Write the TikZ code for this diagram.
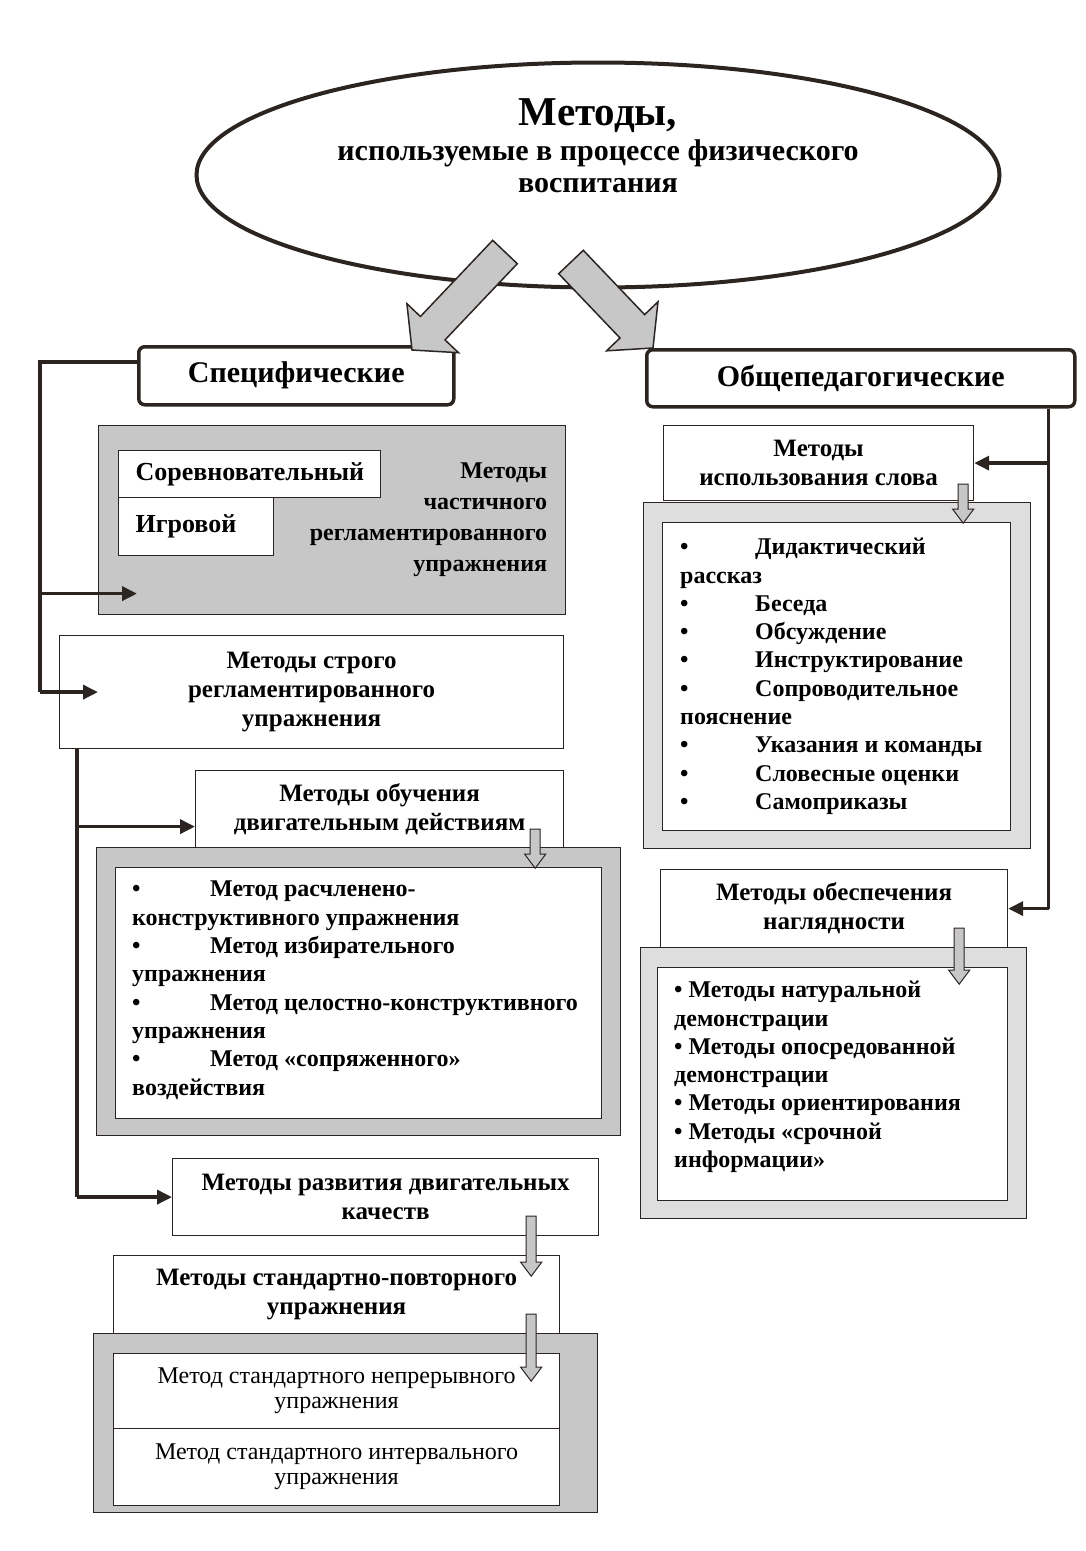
\documentclass[tikz,border=0pt]{standalone}
\usepackage{fontspec}
\setmainfont{Liberation Serif}
\usepackage{tikz}
\usetikzlibrary{positioning, shapes.geometric, arrows.meta}
\usepackage{xcolor}

\definecolor{ink}{HTML}{2B2421}
\definecolor{shade}{gray}{0.78}
\definecolor{lightshade}{gray}{0.87}

% flecha gris pequeña: punto superior, largo del tallo
\newcommand{\dnarrow}[2]{%
	\draw[smallarr] ([xshift=-5pt]#1) -- ++(0,#2) -- ++(-5.5,0) -- ++(10.5,14)
		-- ++(10.5,-14) -- ++(-5.5,0) -- ++(0,-#2) -- cycle;}

\begin{document}
\begin{tikzpicture}[x=1pt, y=-1pt,
		every node/.style={text=black, inner sep=0pt},
		box/.style={draw=ink, line width=1.2pt, fill=white, align=center, anchor=north west,
			font=\fontsize{25}{29}\selectfont\bfseries},
		head/.style={draw=ink, line width=3.5pt, fill=white, rounded corners=6pt, anchor=north west,
			font=\fontsize{30}{34}\selectfont\bfseries},
		frame/.style={draw=ink, line width=1.2pt, anchor=north west},
		cell/.style={draw=ink, line width=1.2pt, fill=white, align=center, anchor=north west,
			font=\fontsize{24}{25}\selectfont},
		listtxt/.style={align=left, anchor=north west, font=\fontsize{24}{28.3}\selectfont\bfseries},
		conn/.style={draw=ink, line width=3.5pt},
		tip/.style={-{Triangle[length=15pt,width=14pt]}},
		bigarr/.style={fill=shade, draw=ink, line width=1.5pt, line join=miter},
		smallarr/.style={fill=shade, draw=ink, line width=1pt}
		]
		\useasboundingbox (0,0) rectangle (1085,1551);
		
		% elipse principal
		\node[draw=ink, line width=4pt, ellipse, minimum width=803pt, minimum height=225pt] (ell) at (598,175) {};
		\node[align=center, font=\fontsize{30}{32}\selectfont\bfseries] (title) at (598,146)
			{{\fontsize{41}{40}\selectfont Методы,}\\[3pt] используемые в процессе физического\\ воспитания};
		
		% dos grupos
		\node[head, minimum width=315pt, minimum height=58pt] (spec) at (137,345) {Специфические};
		\node[head, minimum width=428pt, minimum height=57pt] (obsh) at (645,348) {Общепедагогические};
		
		% lado izquierdo
		\node[box, fill=shade, minimum width=467pt, minimum height=189pt, text width=430pt, align=right,
			font=\fontsize{24}{31}\selectfont\bfseries] (chast) at (98,425)
			{Методы\\ частичного\\ регламентированного\\ упражнения};
		\node[box, align=left, minimum width=262pt, minimum height=47pt, text width=228pt,
			font=\fontsize{26}{29}\selectfont\bfseries] (sorev) at (118,450) {Соревновательный};
		\node[box, align=left, minimum width=155pt, minimum height=58pt, text width=121pt,
			font=\fontsize{26}{29}\selectfont\bfseries] (igr) at (118,497) {Игровой};
		
		\node[box, minimum width=504pt, minimum height=113pt] (strogo) at (59,635)
			{Методы строго\\ регламентированного\\ упражнения};
		\node[box, minimum width=368pt, minimum height=77pt] (obuch) at (195,770)
			{Методы обучения\\ двигательным действиям};
		\node[frame, fill=shade, minimum width=524pt, minimum height=288pt] (fr1) at (96,847) {};
		\node[box, minimum width=486pt, minimum height=251pt] (in1) at (115,867) {};
		\node[listtxt] (l1) at (132,881)
			{\makebox[78pt][l]{•}Метод расчленено-\\
			конструктивного упражнения\\
			\makebox[78pt][l]{•}Метод избирательного\\
			упражнения\\
			\makebox[78pt][l]{•}Метод целостно-конструктивного\\
			упражнения\\
			\makebox[78pt][l]{•}Метод «сопряженного»\\
			воздействия};
		
		\node[box, minimum width=426pt, minimum height=77pt] (razv) at (172,1158)
			{Методы развития двигательных\\ качеств};
		\node[box, minimum width=446pt, minimum height=78pt] (stand) at (113,1255)
			{Методы стандартно-повторного\\ упражнения};
		\node[frame, fill=shade, minimum width=504pt, minimum height=179pt] (fr3) at (93,1333) {};
		\node[cell, minimum width=446pt, minimum height=75pt] (nepr) at (113,1353)
			{Метод стандартного непрерывного\\ упражнения};
		\node[cell, minimum width=446pt, minimum height=77pt] (interv) at (113,1428)
			{Метод стандартного интервального\\ упражнения};
		
		% lado derecho
		\node[box, minimum width=310pt, minimum height=75pt] (slova) at (663,425)
			{Методы\\ использования слова};
		\node[frame, fill=lightshade, minimum width=387pt, minimum height=346pt] (fr2) at (643,502) {};
		\node[box, minimum width=348pt, minimum height=308pt] (in2) at (662,522) {};
		\node[listtxt] (l2) at (680,538)
			{\makebox[75pt][l]{•}Дидактический\\
			рассказ\\
			\makebox[75pt][l]{•}Беседа\\
			\makebox[75pt][l]{•}Обсуждение\\
			\makebox[75pt][l]{•}Инструктирование\\
			\makebox[75pt][l]{•}Сопроводительное\\
			пояснение\\
			\makebox[75pt][l]{•}Указания и команды\\
			\makebox[75pt][l]{•}Словесные оценки\\
			\makebox[75pt][l]{•}Самоприказы};
		
		\node[box, minimum width=347pt, minimum height=78pt] (nagl) at (660,869)
			{Методы обеспечения\\ наглядности};
		\node[frame, fill=lightshade, minimum width=386pt, minimum height=271pt] (fr4) at (640,947) {};
		\node[box, minimum width=350pt, minimum height=233pt] (in4) at (657,967) {};
		\node[listtxt] (l4) at (674,981)
			{• Методы натуральной\\
			демонстрации\\
			• Методы опосредованной\\
			демонстрации\\
			• Методы ориентирования\\
			• Методы «срочной\\
			информации»};
		
		% lineas izquierdas
		\coordinate (lbus) at ([xshift=-97pt, yshift=14pt]spec.west);
		\coordinate (chastin) at ([xshift=39pt, yshift=-73.5pt]chast.west);
		\draw[conn] (lbus -| spec.west) -- (lbus) -- (lbus |- strogo.west);
		\draw[conn, tip] (lbus |- chastin) -- (chastin);
		\draw[conn, tip] (lbus |- strogo.west) -- ([xshift=39pt]strogo.west);
		
		\coordinate (mbus) at ([xshift=18pt]strogo.south west);
		\coordinate (obuchin) at ([yshift=-17.5pt]obuch.west);
		\draw[conn] (mbus) -- (mbus |- razv.west);
		\draw[conn, tip] (mbus |- obuchin) -- (obuchin);
		\draw[conn, tip] (mbus |- razv.west) -- (razv.west);
		
		% lineas derechas
		\coordinate (rbus) at ([xshift=-28pt]obsh.south east);
		\draw[conn] (rbus) -- (rbus |- nagl.east);
		\draw[conn, tip] (rbus |- slova.east) -- (slova.east);
		\draw[conn, tip] (rbus |- nagl.east) -- (nagl.east);
		
		% flechas grises pequeñas
		\coordinate (s1) at ([xshift=-11pt, yshift=17pt]slova.south east);
		\coordinate (s2) at ([xshift=-29pt, yshift=19pt]obuch.south east);
		\coordinate (s3) at ([xshift=-49pt, yshift=20pt]nagl.south east);
		\coordinate (s4) at ([xshift=-68pt, yshift=20pt]razv.south east);
		\coordinate (s5) at ([xshift=-29pt, yshift=20pt]stand.south east);
		\dnarrow{s1}{25}
		\dnarrow{s2}{25}
		\dnarrow{s3}{42}
		\dnarrow{s4}{46}
		\dnarrow{s5}{53}
		
		% flechas grandes
		\draw[bigarr] (492.7,240.3) -- (517.3,263.7) -- (445.0,339.9) -- (458.5,352.7)
			-- (412,350) -- (406.9,303.7) -- (420.4,316.5) -- cycle;
		\draw[bigarr] (583.3,250.3) -- (644.6,314.6) -- (658.0,301.8) -- (653,348)
			-- (606.6,350.8) -- (620.0,338.0) -- (558.7,273.7) -- cycle;
		
	\end{tikzpicture}
\end{document}
